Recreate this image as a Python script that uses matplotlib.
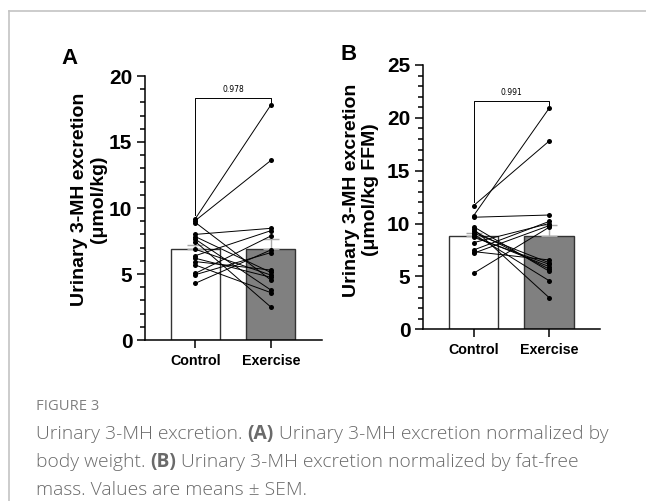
import matplotlib
matplotlib.use("Agg")
import matplotlib.pyplot as plt
from matplotlib.lines import Line2D
from matplotlib.ticker import MultipleLocator

W, H = 646, 501

groups = ["Control", "Exercise"]

# Panel A: urinary 3-MH (umol/kg), paired subjects
a_control = [9.2, 9.05, 8.9, 8.0, 7.83, 7.63, 7.45, 6.87, 6.39, 6.19, 5.94, 5.68, 5.05, 4.95, 4.3]
a_exercise = [17.8, 13.6, 4.55, 8.46, 5.12, 3.79, 2.5, 4.92, 8.28, 4.75, 5.3, 3.59, 7.88, 6.62, 6.82]
a_means = [6.9, 6.93]
a_sem = [0.3, 0.74]
a_p = "0.978"
a_ymax, a_ystep = 20, 5

# Panel B: urinary 3-MH (umol/kg FFM)
b_control = [11.7, 10.75, 10.6, 9.7, 9.5, 9.3, 9.1, 9.0, 8.8, 8.7, 8.2, 7.5, 7.35, 7.2, 5.3]
b_exercise = [17.8, 20.9, 10.81, 5.5, 3.0, 5.7, 6.3, 4.6, 5.93, 6.15, 10.0, 10.2, 6.56, 9.8, 9.65]
b_means = [8.85, 8.86]
b_sem = [0.3, 0.98]
b_p = "0.991"
b_ymax, b_ystep = 25, 5

bar_faces = ["white", "#808080"]

plt.rcParams["font.family"] = ["Liberation Sans", "DejaVu Sans"]

fig = plt.figure(figsize=(W / 100, H / 100), dpi=100)


def make_axes(left, right, bottom, top):
    return fig.add_axes([left / W, 1 - bottom / H, (right - left) / W, (bottom - top) / H])


def draw_panel(ax, ctrl, exer, means, sems, ymax, ystep, p_text, bracket_y):
    x = [0, 1]
    ax.bar(x, means, width=0.654, color=bar_faces, edgecolor="#333333",
           linewidth=1.0, zorder=1)
    ax.errorbar(x, means, yerr=[[0, 0], sems], fmt="none", ecolor="#a8a8a8",
                elinewidth=1.0, capsize=6, capthick=1.0, zorder=2)
    for c, e in zip(ctrl, exer):
        ax.plot(x, [c, e], color="black", lw=0.7, marker="o", ms=3.6,
                markeredgewidth=0, zorder=4)
    gap = ymax * 0.012
    ax.plot([0, 0, 1, 1], [max(ctrl) + gap, bracket_y, bracket_y, max(exer) + gap],
            color="black", lw=0.7, zorder=3, clip_on=False)
    ax.text(0.5, bracket_y + ymax * 0.012, p_text, ha="center", va="bottom",
            fontsize=5.5, fontfamily="DejaVu Sans")
    ax.set_xlim(-0.675, 1.675)
    ax.set_ylim(0, ymax)
    ax.set_xticks(x)
    ax.set_xticklabels(groups, fontsize=10.3, fontweight="bold")
    ax.yaxis.set_major_locator(MultipleLocator(ystep))
    ax.yaxis.set_minor_locator(MultipleLocator(1))
    for lab in ax.get_yticklabels():
        lab.set_fontsize(15)
        lab.set_fontweight("bold")
    for s in ["top", "right"]:
        ax.spines[s].set_visible(False)
    for s in ["left", "bottom"]:
        ax.spines[s].set_linewidth(1.1)
    ax.tick_params(axis="both", which="major", length=5.8, width=1.1, direction="out")
    ax.tick_params(axis="y", which="minor", length=3.6, width=1.1, direction="out")
    ax.tick_params(axis="y", which="major", pad=3)
    ax.tick_params(axis="x", which="major", pad=4)
    ax.patch.set_alpha(0)


axA = make_axes(144.5, 321.7, 340, 76)
draw_panel(axA, a_control, a_exercise, a_means, a_sem, a_ymax, a_ystep, a_p, 18.37)
axB = make_axes(422.7, 600, 329.3, 65)
draw_panel(axB, b_control, b_exercise, b_means, b_sem, b_ymax, b_ystep, b_p, 21.63)

# y labels
fig.text(89 / W, 1 - 199 / H, "Urinary 3-MH excretion\n(μmol/kg)", rotation=90,
         ha="center", va="center", multialignment="center", fontsize=14,
         fontweight="bold", linespacing=1.1)
fig.text(361 / W, 1 - 190 / H, "Urinary 3-MH excretion\n(μmol/kg FFM)", rotation=90,
         ha="center", va="center", multialignment="center", fontsize=14,
         fontweight="bold", linespacing=1.1)

# panel letters
fig.text(70 / W, 1 - 58.5 / H, "A", fontsize=16, fontweight="bold", ha="center", va="center")
fig.text(348.5 / W, 1 - 55 / H, "B", fontsize=16, fontweight="bold", ha="center", va="center")

# frame lines
fig.add_artist(Line2D([9 / W, 1], [1 - 11 / H, 1 - 11 / H], color="#c4c4c4", lw=1.2))
fig.add_artist(Line2D([9 / W, 9 / W], [1 - 11 / H, 0], color="#c4c4c4", lw=1.2))

# caption
cap_color = "#6a6a6a"
fig.text(36 / W, 1 - 407 / H, "FIGURE 3", fontsize=10.6, color="#808080",
         fontfamily="Open Sans", ha="left", va="center")

renderer = fig.canvas.get_renderer()


def rich_line(x_px, y_px, segments, size=13.9):
    x = x_px / W
    for text, bold in segments:
        t = fig.text(x, 1 - y_px / H, text, fontsize=size, color=cap_color,
                     fontfamily="Open Sans", fontweight="bold" if bold else "light",
                     ha="left", va="center")
        bb = t.get_window_extent(renderer)
        x += bb.width / W


rich_line(36, 434, [("Urinary 3-MH excretion. ", False), ("(A)", True),
                    (" Urinary 3-MH excretion normalized by", False)])
rich_line(36, 462, [("body weight. ", False), ("(B)", True),
                    (" Urinary 3-MH excretion normalized by fat-free", False)])
rich_line(36, 490, [("mass. Values are means ± SEM.", False)])

fig.savefig("out.png", dpi=100)
